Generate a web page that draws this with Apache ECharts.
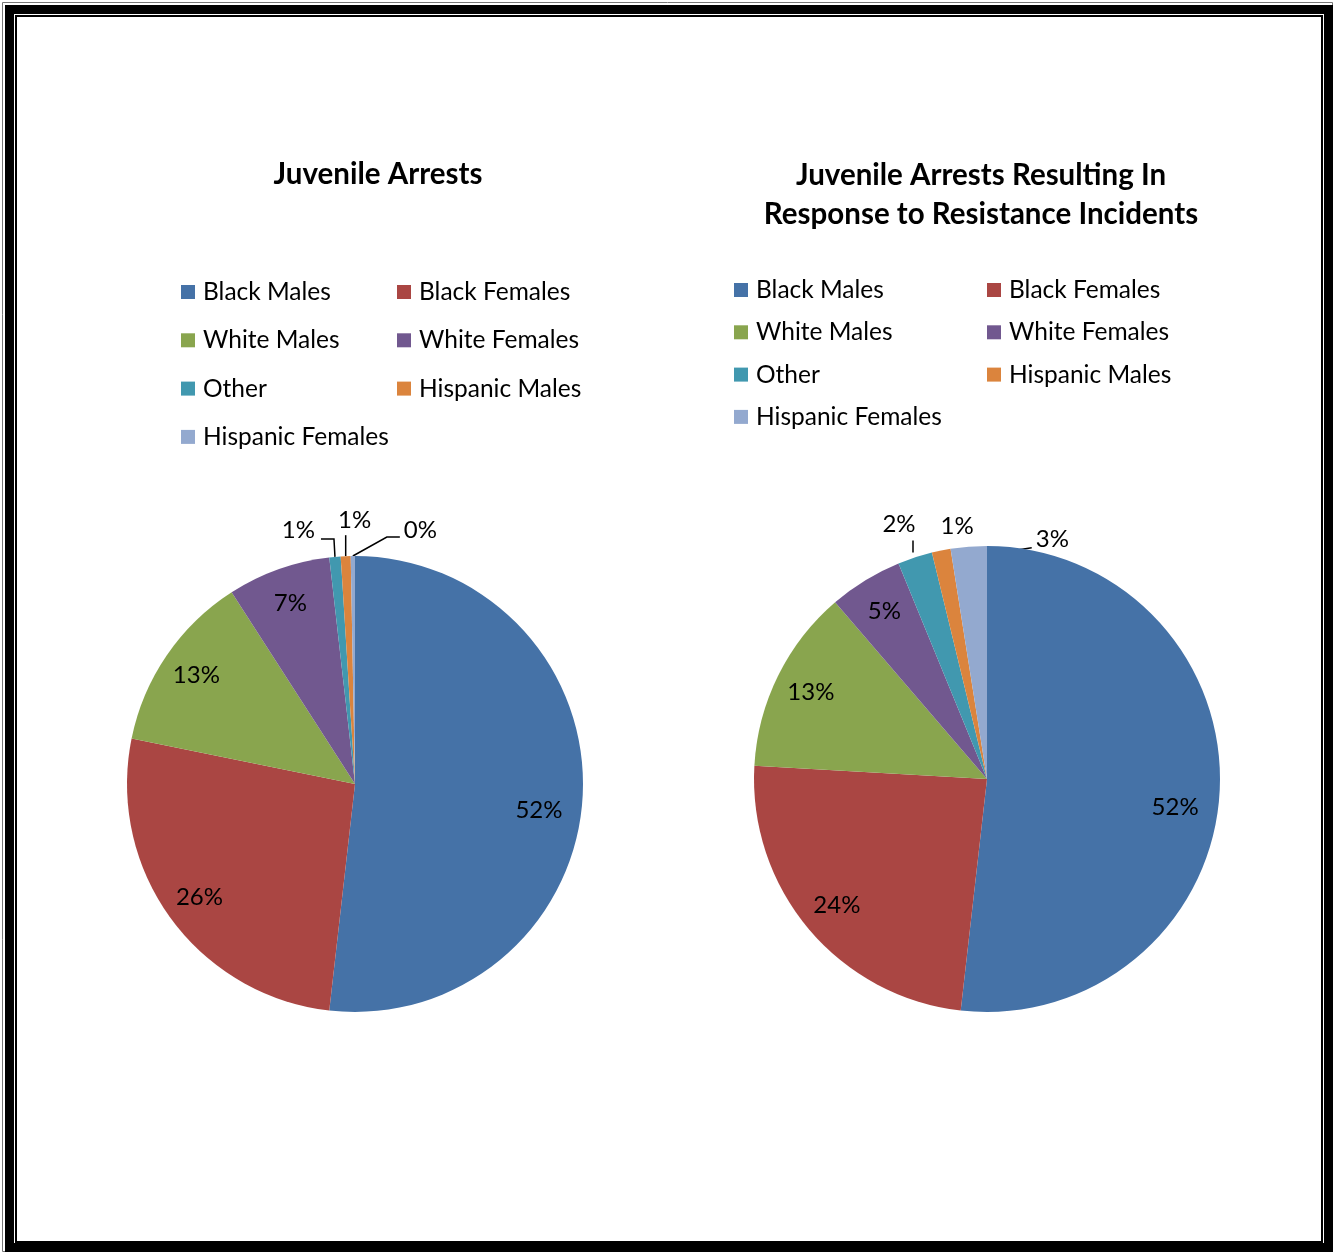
<!DOCTYPE html>
<html>
<head>
<meta charset="utf-8">
<script src="https://cdn.jsdelivr.net/npm/echarts@6/dist/echarts.min.js"></script>
<style>
  html, body { margin: 0; padding: 0; background: #fff; }
  #main { width: 1333px; height: 1252px; }
</style>
</head>
<body>
<div id="main"></div>
<script>
// categories and the two sets of shares (percent)
var groups = ['Black Males', 'Black Females', 'White Males', 'White Females', 'Other', 'Hispanic Males', 'Hispanic Females'];
var arrests = [51.8, 26.4, 12.7, 7.3, 0.8, 0.7, 0.3];
var resistance = [51.8, 24.1, 12.8, 5.1, 2.4, 1.3, 2.5];
var colors = ['#4572A7', '#AA4643', '#89A54E', '#71588F', '#4198AF', '#DB843D', '#93A9CF'];

var leftCol = ['Black Males', 'White Males', 'Other', 'Hispanic Females'];
var rightCol = ['Black Females', 'White Females', 'Hispanic Males'];

var font = 'Lato, "Open Sans", sans-serif';

// where the small-slice labels sit relative to their slice edge point,
// and how the leader line bends (offsets, px)
var smallLabels1 = {
  4: { lx: -20, ly: -27, align: 'right', line: [[-1, -18], [-14, -18]] },
  5: { lx: 9, ly: -36, align: 'center', line: [[0, -21]] },
  6: { lx: 51, ly: -26, align: 'left', line: [[34, -19], [47, -19]] }
};
var smallLabels2 = {
  4: { lx: -16, ly: -33, align: 'center', line: [[-2, -5], [-2, -17]], skipAnchor: true },
  5: { lx: 16, ly: -24, align: 'center', line: null },
  6: { lx: 67, ly: -7, align: 'left', line: [[18, 8], [63, 1]], skipAnchor: true }
};
// nudge of the big inner label
var ringNudge1 = { 0: [-8, 15] };
var ringNudge2 = { 0: [-8, 17] };

var chart = echarts.init(document.getElementById('main'));

function pctLabel(p) {
  return Math.round(p.value) + '%';
}

function smallLayout(cfgs) {
  return function (params) {
    var cfg = cfgs[params.dataIndex];
    if (!cfg || !params.labelLinePoints) return {};
    var p0 = params.labelLinePoints[0];
    var pts = null;
    if (cfg.line) {
      pts = cfg.skipAnchor ? [] : [[p0[0], p0[1]]];
      cfg.line.forEach(function (d) { pts.push([p0[0] + d[0], p0[1] + d[1]]); });
    }
    return {
      x: p0[0] + cfg.lx,
      y: p0[1] + cfg.ly,
      align: cfg.align,
      verticalAlign: 'middle',
      hideOverlap: false,
      moveOverlap: false,
      labelLinePoints: pts || [[p0[0], p0[1]], [p0[0], p0[1]]]
    };
  };
}

function ringLayout(nudges) {
  return function (params) {
    var n = nudges[params.dataIndex];
    return n ? { dx: n[0], dy: n[1] } : {};
  };
}

// main pie: only the small slices carry outside labels
function mainPie(values, center, r, cfgs) {
  return {
    type: 'pie',
    center: center,
    radius: r,
    startAngle: 90,
    clockwise: true,
    avoidLabelOverlap: false,
    itemStyle: { borderWidth: 0 },
    emphasis: { disabled: true },
    label: {
      show: true,
      position: 'outside',
      formatter: pctLabel,
      fontFamily: font,
      fontSize: 24,
      color: '#000'
    },
    labelLine: { show: true, length: 14, length2: 12, lineStyle: { color: '#000', width: 1.5 } },
    labelLayout: smallLayout(cfgs),
    data: values.map(function (v, i) {
      return {
        name: groups[i],
        value: v,
        itemStyle: { color: colors[i] },
        label: { show: i >= 4 },
        labelLine: { show: i >= 4 && !!(cfgs[i] && cfgs[i].line) }
      };
    })
  };
}

// transparent ring used only to place the inner labels at ~0.83 R
function labelRing(values, center, r, nudges) {
  return {
    type: 'pie',
    center: center,
    radius: [r * 0.66, r],
    startAngle: 90,
    clockwise: true,
    silent: true,
    legendHoverLink: false,
    itemStyle: { color: 'rgba(0,0,0,0)' },
    emphasis: { disabled: true },
    label: {
      position: 'inside',
      formatter: pctLabel,
      fontFamily: font,
      fontSize: 24,
      color: '#000'
    },
    labelLine: { show: false },
    labelLayout: ringLayout(nudges),
    data: values.map(function (v, i) {
      return { name: groups[i], value: v, label: { show: i < 4 } };
    })
  };
}

function legend(names, left, top, gap) {
  return {
    orient: 'vertical',
    left: left,
    top: top,
    padding: 0,
    itemWidth: 14,
    itemHeight: 14,
    itemGap: gap,
    icon: 'rect',
    selectedMode: false,
    data: names,
    textStyle: { fontFamily: font, fontSize: 24.5, color: '#000', lineHeight: 26, padding: [0, 0, 0, 3] }
  };
}

chart.setOption({
  backgroundColor: '#fff',
  animation: false,
  color: colors,
  title: [
    {
      text: 'Juvenile Arrests',
      left: 378, top: 159, textAlign: 'center', padding: 0,
      textStyle: { fontFamily: font, fontSize: 29.5, fontWeight: 'bold', color: '#000' }
    },
    {
      text: 'Juvenile Arrests Resulting In\nResponse to Resistance Incidents',
      left: 981, top: 156, textAlign: 'center', padding: 0,
      textStyle: { fontFamily: font, fontSize: 29.5, fontWeight: 'bold', color: '#000', lineHeight: 39 }
    }
  ],
  legend: [
    legend(leftCol, 181, 279, 22.3),
    legend(rightCol, 397, 279, 22.3),
    legend(leftCol, 734, 277, 16.3),
    legend(rightCol, 987, 277, 16.3)
  ],
  graphic: [
    { type: 'rect', shape: { x: 2.5, y: 2.5, width: 1330, height: 1249 }, style: { fill: 'none', stroke: '#777', lineWidth: 1 }, silent: true },
    { type: 'rect', shape: { x: 9.5, y: 9.5, width: 1319, height: 1238 }, style: { fill: 'none', stroke: '#000', lineWidth: 9 }, silent: true },
    { type: 'rect', shape: { x: 16, y: 16, width: 1306, height: 1226 }, style: { fill: 'none', stroke: '#000', lineWidth: 2 }, silent: true }
  ],
  series: [
    mainPie(arrests, [355, 784], 228, smallLabels1),
    labelRing(arrests, [355, 784], 228, ringNudge1),
    mainPie(resistance, [987, 779], 233, smallLabels2),
    labelRing(resistance, [987, 779], 233, ringNudge2)
  ]
});
</script>
</body>
</html>
